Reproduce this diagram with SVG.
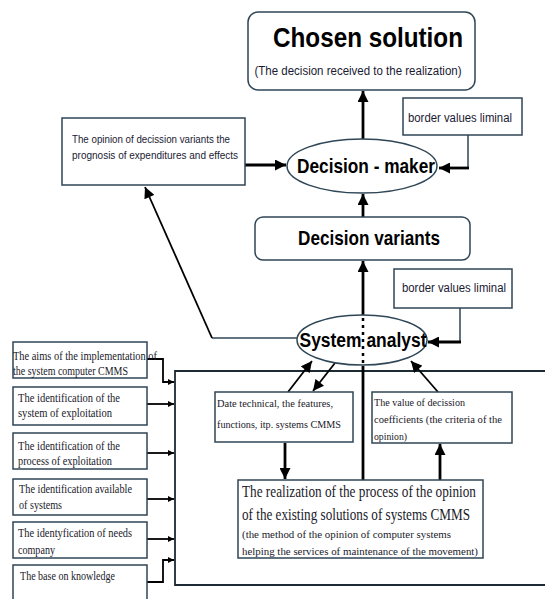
<svg xmlns="http://www.w3.org/2000/svg" width="545" height="599" viewBox="0 0 545 599">
<defs>
<style>
.box{fill:#fff;stroke:#2f4656;stroke-width:1.5}
.ell{fill:#fff;stroke:#2f4656;stroke-width:1.5}
.big{font-family:"Liberation Sans",Arial,sans-serif;font-weight:bold;fill:#000}
.sans{font-family:"Liberation Sans",Arial,sans-serif;fill:#1a1a33}
.serif{font-family:"Liberation Serif","Times New Roman",serif;fill:#1a1a2a}
.thick{fill:none;stroke:#000;stroke-width:2.8}
.thin{fill:none;stroke:#000;stroke-width:1.8}
.conn{fill:none;stroke:#2f4656;stroke-width:1.5}
</style>
<marker id="ah" viewBox="0 0 10 10" refX="10" refY="5" markerWidth="12" markerHeight="11" markerUnits="userSpaceOnUse" orient="auto"><path d="M0,0 L10,5 L0,10 z" fill="#000"/></marker>
<marker id="as" viewBox="0 0 10 10" refX="10" refY="5" markerWidth="7" markerHeight="6" markerUnits="userSpaceOnUse" orient="auto"><path d="M0,0 L10,5 L0,10 z" fill="#000"/></marker>
</defs>
<rect width="545" height="599" fill="#fff"/>

<g id="connectors">
<!-- frame -->
<path d="M545,371 L175,371 L175,585 L545,585" fill="none" stroke="#1c2a33" stroke-width="1.8"/>
<!-- decision maker to chosen -->
<path class="thick" d="M363,139 L363,91" marker-end="url(#ah)"/>
<!-- opinion box to decision maker -->
<path class="thick" d="M245,165 L286,165" marker-end="url(#ah)"/>
<!-- border values 1 to decision maker -->
<path class="conn" d="M468,135 L468,168"/>
<path class="thick" d="M469,168 L439,168" marker-end="url(#ah)"/>
<!-- decision variants to decision maker -->
<path class="thick" d="M363,217 L363,194" marker-end="url(#ah)"/>
<!-- system analyst to decision variants -->
<path class="thick" d="M363,317 L363,261" marker-end="url(#ah)"/>
<path d="M363,318 L363,365" fill="none" stroke="#000" stroke-width="2.5" stroke-dasharray="3,4"/>
<path class="thick" d="M363,366 L363,480"/>
<!-- border values 2 to system analyst -->
<path class="conn" d="M460,308 L460,342"/>
<path class="thick" d="M461,342 L428,342" marker-end="url(#ah)"/>
<!-- system analyst to opinion box -->
<path class="conn" d="M297,338 L212,338"/>
<path class="thin" d="M212,338 L145,187" marker-end="url(#ah)"/>
<!-- date box <-> analyst -->
<path class="thin" d="M288,392 L312,361" marker-end="url(#ah)"/>
<path class="thin" d="M335,363 L313,391" marker-end="url(#ah)"/>
<!-- value box to analyst -->
<path class="thin" d="M438,392 L411,361" marker-end="url(#ah)"/>
<!-- date box to realization -->
<path class="thick" d="M285,443 L285,479" marker-end="url(#ah)"/>
<!-- realization to value box -->
<path class="thick" d="M440,480 L440,444" marker-end="url(#ah)"/>
<!-- left boxes to frame -->
<path class="thin" d="M147,359 L163,359 L163,382 L174,382" marker-end="url(#as)"/>
<path class="thin" d="M147,404 L174,404" marker-end="url(#as)"/>
<path class="thin" d="M147,453 L174,453" marker-end="url(#as)"/>
<path class="thin" d="M147,499 L174,499" marker-end="url(#as)"/>
<path class="thin" d="M147,539 L174,539" marker-end="url(#as)"/>
<path class="thin" d="M147,582 L163,582 L163,560 L174,560" marker-end="url(#as)"/>
</g>

<g id="chosen-solution">
<rect class="box" x="248" y="12" width="227" height="78" rx="10"/>
<text class="big" x="368" y="47" font-size="28" text-anchor="middle" textLength="190" lengthAdjust="spacingAndGlyphs">Chosen solution</text>
<text class="sans" x="358" y="75" font-size="12" text-anchor="middle" textLength="207" lengthAdjust="spacingAndGlyphs">(The decision received to the realization)</text>
</g>

<g id="border-values-1">
<rect class="box" x="403" y="98" width="119" height="37"/>
<text class="sans" x="408" y="122" font-size="12" textLength="104" lengthAdjust="spacingAndGlyphs">border values liminal</text>
</g>

<g id="opinion-box">
<rect class="box" x="62" y="118" width="183" height="67"/>
<text class="sans" x="72" y="143" font-size="11" textLength="158" lengthAdjust="spacingAndGlyphs">The opinion of decission variants the</text>
<text class="sans" x="72" y="159" font-size="11" textLength="166" lengthAdjust="spacingAndGlyphs">prognosis of expenditures and effects</text>
</g>

<g id="decision-maker">
<ellipse class="ell" cx="362" cy="166" rx="75" ry="27"/>
<text class="big" x="366" y="173" font-size="21" text-anchor="middle" textLength="138" lengthAdjust="spacingAndGlyphs">Decision - maker</text>
</g>

<g id="decision-variants">
<rect class="box" x="255" y="217" width="215" height="43" rx="8"/>
<text class="big" x="369" y="245" font-size="21" text-anchor="middle" textLength="142" lengthAdjust="spacingAndGlyphs">Decision variants</text>
</g>

<g id="border-values-2">
<rect class="box" x="394" y="269" width="118" height="39"/>
<text class="sans" x="402" y="292" font-size="12" textLength="104" lengthAdjust="spacingAndGlyphs">border values liminal</text>
</g>

<g id="system-analyst">
<ellipse class="ell" cx="362" cy="340" rx="65" ry="25"/>
<path d="M363,318 L363,365" fill="none" stroke="#000" stroke-width="2.5" stroke-dasharray="3,4"/>
<text class="big" x="363" y="347" font-size="20" text-anchor="middle" textLength="127" lengthAdjust="spacingAndGlyphs">System analyst</text>
</g>

<g id="date-technical">
<rect class="box" x="215" y="392" width="138" height="50"/>
<text class="serif" x="217" y="407" font-size="11" textLength="116" lengthAdjust="spacingAndGlyphs">Date technical, the features,</text>
<text class="serif" x="217" y="428" font-size="11" textLength="124" lengthAdjust="spacingAndGlyphs">functions, itp. systems CMMS</text>
</g>

<g id="decision-coefficients">
<rect class="box" x="372" y="392" width="140" height="51"/>
<text class="serif" x="374" y="406" font-size="11" textLength="91" lengthAdjust="spacingAndGlyphs">The value of decission</text>
<text class="serif" x="374" y="423" font-size="11" textLength="128" lengthAdjust="spacingAndGlyphs">coefficients (the criteria of the</text>
<text class="serif" x="374" y="440" font-size="11" textLength="33" lengthAdjust="spacingAndGlyphs">opinion)</text>
</g>

<g id="realization">
<rect class="box" x="238" y="480" width="245" height="78"/>
<text class="serif" x="242" y="497" font-size="17" textLength="234" lengthAdjust="spacingAndGlyphs">The realization of the process of the opinion</text>
<text class="serif" x="242" y="520" font-size="17" textLength="228" lengthAdjust="spacingAndGlyphs">of the existing solutions of systems CMMS</text>
<text class="serif" x="242" y="538" font-size="11" textLength="209" lengthAdjust="spacingAndGlyphs">(the method of the opinion of computer systems</text>
<text class="serif" x="242" y="555" font-size="11" textLength="236" lengthAdjust="spacingAndGlyphs">helping the services of maintenance of the movement)</text>
</g>

<g id="aims">
<rect class="box" x="13" y="342" width="134" height="36"/>
<text class="serif" x="13" y="360" font-size="12" textLength="144" lengthAdjust="spacingAndGlyphs">The aims of the implementation of</text>
<text class="serif" x="13" y="375" font-size="12" textLength="115" lengthAdjust="spacingAndGlyphs">the system computer CMMS</text>
</g>

<g id="identification-system">
<rect class="box" x="13" y="387" width="134" height="38"/>
<text class="serif" x="18" y="402" font-size="12" textLength="102" lengthAdjust="spacingAndGlyphs">The identification of the</text>
<text class="serif" x="18" y="417" font-size="12" textLength="94" lengthAdjust="spacingAndGlyphs">system of exploitation</text>
</g>

<g id="identification-process">
<rect class="box" x="13" y="433" width="134" height="36"/>
<text class="serif" x="18" y="450" font-size="12" textLength="102" lengthAdjust="spacingAndGlyphs">The identification of the</text>
<text class="serif" x="18" y="465" font-size="12" textLength="94" lengthAdjust="spacingAndGlyphs">process of exploitation</text>
</g>

<g id="identification-available">
<rect class="box" x="13" y="479" width="134" height="36"/>
<text class="serif" x="19" y="493" font-size="12" textLength="113" lengthAdjust="spacingAndGlyphs">The identification available</text>
<text class="serif" x="19" y="509" font-size="12" textLength="43" lengthAdjust="spacingAndGlyphs">of systems</text>
</g>

<g id="needs-company">
<rect class="box" x="13" y="522" width="134" height="36"/>
<text class="serif" x="18" y="537" font-size="12" textLength="114" lengthAdjust="spacingAndGlyphs">The identyfication of needs</text>
<text class="serif" x="18" y="554" font-size="12" textLength="37" lengthAdjust="spacingAndGlyphs">company</text>
</g>

<g id="knowledge">
<rect class="box" x="13" y="565" width="134" height="40"/>
<text class="serif" x="20" y="580" font-size="12" textLength="95" lengthAdjust="spacingAndGlyphs">The base on knowledge</text>
</g>
</svg>
